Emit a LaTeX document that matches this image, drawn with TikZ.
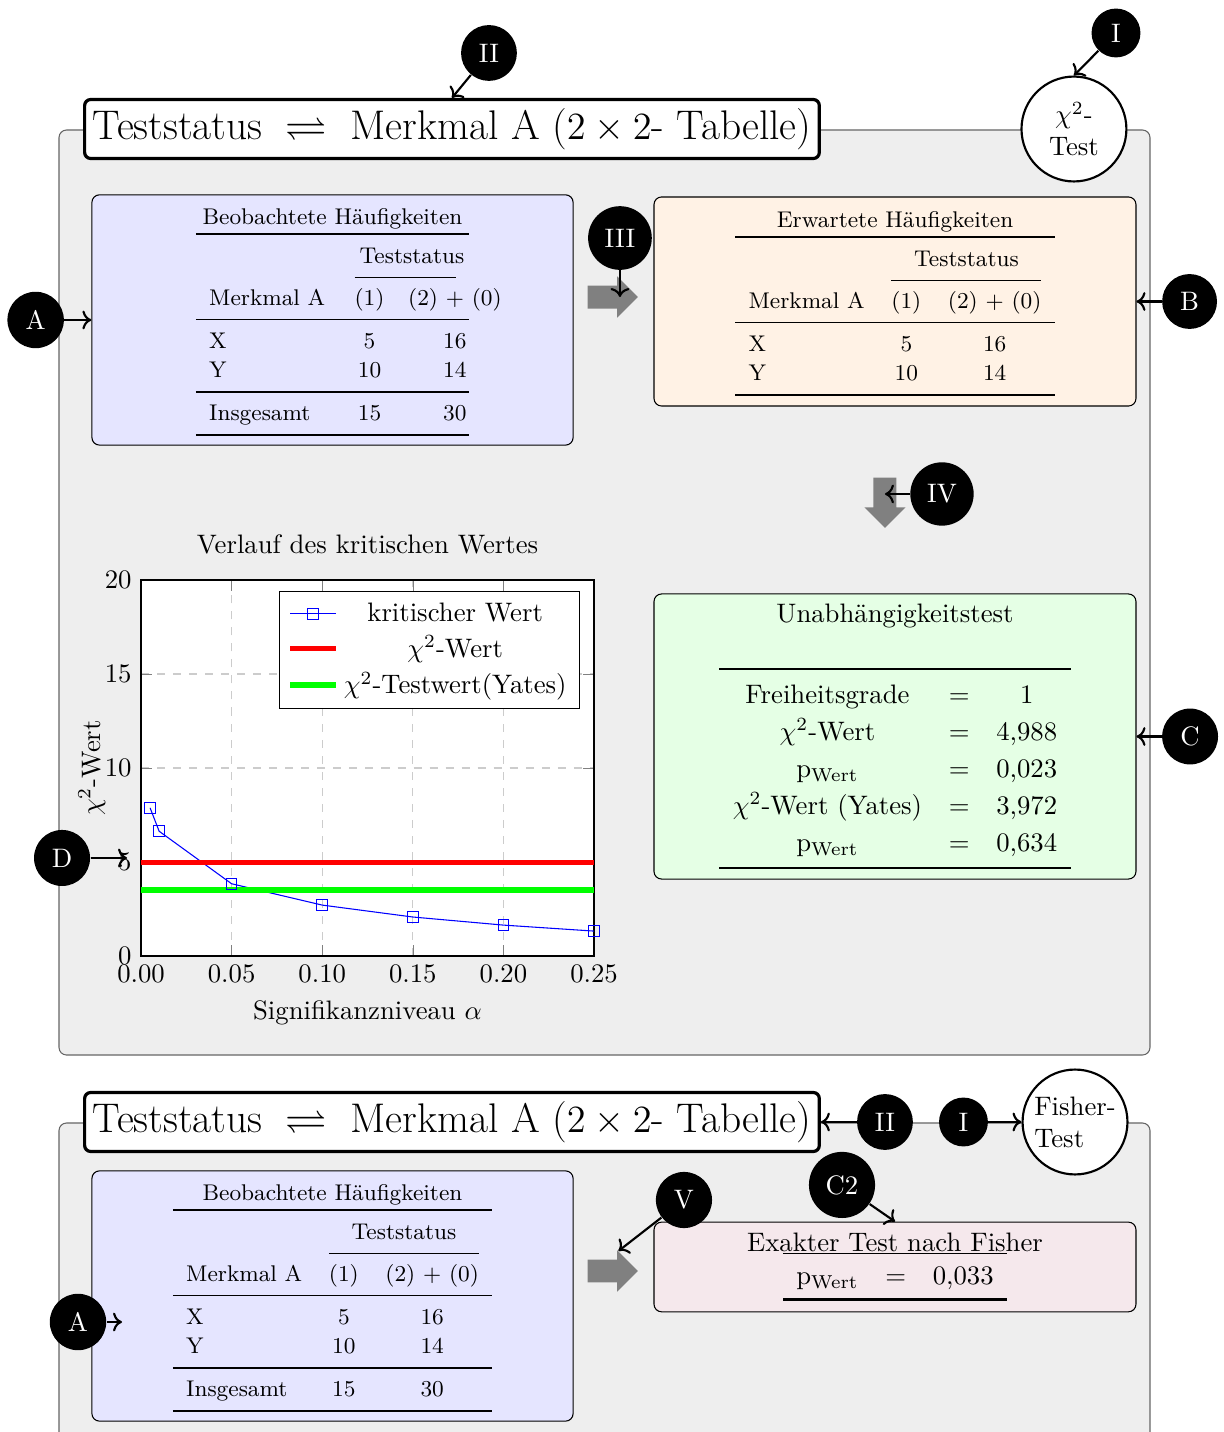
\documentclass[tikz,border=0pt]{standalone}
\usepackage{amsmath}
\usepackage{amssymb}
\usepackage{booktabs}
\usepackage{pgfplots}
\pgfplotsset{compat=1.18}
\usetikzlibrary{
  arrows.meta,
  positioning,
  calc,
  shapes.arrows
}
\setlength{\tabcolsep}{5pt}
\definecolor{PanelGray}{RGB}{238,238,238}
\definecolor{ObsBlue}{RGB}{229,229,255}
\definecolor{ExpOrange}{RGB}{255,242,229}
\definecolor{TestGreen}{RGB}{229,255,229}
\definecolor{FisherRose}{RGB}{245,232,236}
\tikzset{
  panel/.style={draw=black!60,fill=PanelGray,rounded corners=1mm},
  headline/.style={draw,very thick,fill=white,rounded corners=0.8mm,font=\fontsize{15.5}{18}\selectfont,inner xsep=3pt,inner ysep=3.3pt,anchor=west},
  testcircle/.style={circle,draw,thick,fill=white,minimum size=1.38cm,inner sep=1pt},
  badge/.style={circle,fill=black,text=white,inner sep=3.8pt},
  obsnode/.style={draw,fill=ObsBlue,rounded corners=1mm,minimum width=6.33cm,minimum height=3.24cm,font=\fontsize{8.5}{11}\selectfont},
  expnode/.style={draw,fill=ExpOrange,rounded corners=1mm,minimum width=6.34cm,minimum height=2.75cm,font=\fontsize{8.5}{11}\selectfont},
  testnode/.style={draw,fill=TestGreen,rounded corners=1mm,minimum width=6.34cm,minimum height=3.75cm,align=center},
  fishernode/.style={draw,fill=FisherRose,rounded corners=1mm,minimum width=6.34cm,minimum height=1.18cm,align=center},
  flowarrow/.style={single arrow,fill=gray,inner sep=4.1pt,minimum width=15pt,minimum height=0.66cm,single arrow head extend=3.4pt},
  pointer/.style={->,thick}
}

\begin{document}
\begin{tikzpicture}
\useasboundingbox (0,0) rectangle (16.10,-18.837);

% Chi-squared panel
\draw[panel] (0.776,-1.710) rectangle (15.127,-13.878);
\node[headline] (title1) at (1.092,-1.697) {Teststatus~$\;\rightleftharpoons\;$~Merkmal A ($2 \times 2$- Tabelle)};
\node[testcircle,align=center] (chi) at (14.127,-1.697) {$\chi^2$-\\Test};
\node[badge] (I1) at (14.680,-0.434) {I};
\node[badge] (II1) at (6.432,-0.697) {II};

\node[obsnode] (obs1) at (4.374,-4.209) {%
  \begin{tabular}{@{\hspace{5pt}}l@{\hspace{11pt}}c@{\hspace{22pt}}c@{\hspace{1pt}}}
    \multicolumn{3}{@{}c@{}}{Beobachtete Häufigkeiten}\\ \toprule
    & \multicolumn{2}{@{}c@{}}{Teststatus}\\ \cmidrule(r){2-3}
    Merkmal A & (1) & \makebox[0pt]{(2) + (0)}\\ \midrule
    X & 5 & 16\\
    Y & 10 & 14\\ \midrule
    Insgesamt & 15 & 30\\ \bottomrule
  \end{tabular}};
\node[badge, left=0.355cm of obs1] (A1) {A};

\node[flowarrow] (ra1) at (7.984,-3.907) {};
\node[badge] (III) at (8.155,-3.131) {III};

\node[expnode] (exp1) at (11.773,-3.966) {%
  \begin{tabular}{lcc}
    \multicolumn{3}{c}{Erwartete Häufigkeiten}\\ \toprule
    & \multicolumn{2}{c}{Teststatus}\\ \cmidrule(lr){2-3}
    Merkmal A & (1) & (2) + (0)\\ \midrule
    X & 5 & 16\\
    Y & 10 & 14\\ \bottomrule
  \end{tabular}};
\node[badge, right=0.33cm of exp1] (B) {B};

\node[flowarrow,shape border rotate=270] (da1) at (11.641,-6.538) {};
\node[badge] (IV) at (12.391,-6.498) {IV};

\node[testnode] (test1) at (11.773,-9.688) {%
  Unabhängigkeitstest\\[14pt]
  \renewcommand{\arraystretch}{1.15}%
  \begin{tabular}{ccc}
    \toprule
    Freiheitsgrade & $=$ & 1\\
    $\chi^2$-Wert & $=$ & 4,988\\
    p$_{\text{Wert}}$ & $=$ & 0,023\\
    $\chi^2$-Wert (Yates) & $=$ & 3,972\\
    p$_{\text{Wert}}$ & $=$ & 0,634\\ \bottomrule
  \end{tabular}};
\node[badge, right=0.33cm of test1] (C) {C};

\coordinate (plotsw) at (1.855,-12.575);
\begin{axis}[
  at={(plotsw)}, anchor=south west,
  scale only axis, width=5.959cm, height=4.946cm,
  xmin=0, xmax=0.25, ymin=0, ymax=20,
  xtick={0,0.05,0.1,0.15,0.2,0.25}, ytick={0,5,10,15,20},
  scaled x ticks=false,
  xticklabel style={/pgf/number format/.cd,fixed,fixed zerofill,precision=2},
  grid=major, grid style={dashed,gray!40},
  axis background/.style={fill=white},
  title={Verlauf des kritischen Wertes},
  xlabel={Signifikanzniveau $\alpha$},
  ylabel={$\chi^2$-Wert},
  ylabel shift=-7pt,
  legend cell align=center,
  legend pos=north east
]
\addplot[blue,mark=square] coordinates {(0.005,7.879) (0.01,6.635) (0.05,3.841) (0.1,2.706) (0.15,2.072) (0.2,1.642) (0.25,1.323)};
\addlegendentry{kritischer Wert}
\addplot[red,line width=2pt,domain=0:0.25,samples=2] {4.988};
\addlegendentry{$\chi^2$-Wert}
\addplot[green,line width=2pt,domain=0:0.25,samples=2] {3.5};
\addlegendentry{$\chi^2$-Testwert(Yates)}
\coordinate (dtick) at (axis cs:0,5);
\end{axis}
\node[badge] (D) at (0.816,-11.286) {D};

\draw[pointer] (I1) -- (chi.north);
\draw[pointer] (II1) -- (title1.north);
\draw[pointer] (A1) -- (obs1.west);
\draw[pointer] (III) -- (III |- ra1.center);
\draw[pointer] (B) -- (exp1.east);
\draw[pointer] (IV) -- (IV -| da1.center);
\draw[pointer] (C) -- (test1.east);
\draw[pointer] (D) -- ($(D -| dtick)+(-0.184,0)$);

% Fisher panel
\draw[panel] (0.776,-14.772) rectangle (15.127,-19.2);
\node[headline] (title2) at (1.092,-14.759) {Teststatus~$\;\rightleftharpoons\;$~Merkmal A ($2 \times 2$- Tabelle)};
\node[testcircle,align=left] (fisher) at (14.141,-14.759) {Fisher-\\Test};
\node[badge] (II2) at (11.641,-14.759) {II};
\node[badge, right=0.33cm of II2] (I2) {I};

\node[obsnode] (obs2) at (4.374,-17.048) {%
  \begin{tabular}{lcc}
    \multicolumn{3}{c}{Beobachtete Häufigkeiten}\\ \toprule
    & \multicolumn{2}{c}{Teststatus}\\ \cmidrule(lr){2-3}
    Merkmal A & (1) & (2) + (0)\\ \midrule
    X & 5 & 16\\
    Y & 10 & 14\\ \midrule
    Insgesamt & 15 & 30\\ \bottomrule
  \end{tabular}};
\node[badge] (A2) at (1.026,-17.390) {A};
\coordinate (a2end) at (1.605,-17.390);

\node[flowarrow] (ra2) at (7.984,-16.719) {};
\node[fishernode] (fisherbox) at (11.773,-16.666) {%
  Exakter Test nach Fisher\\[-2.5pt]
  \begin{tabular}{ccc}
    \midrule
    p$_{\text{Wert}}$ & $=$ & 0,033\\ \bottomrule
  \end{tabular}};
\node[badge] (V) at (8.997,-15.785) {V};
\node[badge] (C2) at (11.076,-15.587) {C2};

\draw[pointer] (II2) -- (title2.east);
\draw[pointer] (I2) -- (fisher.west);
\draw[pointer] (A2) -- (a2end);
\draw[pointer] (V) -- (ra2.60);
\draw[pointer] (C2) -- (fisherbox.north);
\end{tikzpicture}
\end{document}
